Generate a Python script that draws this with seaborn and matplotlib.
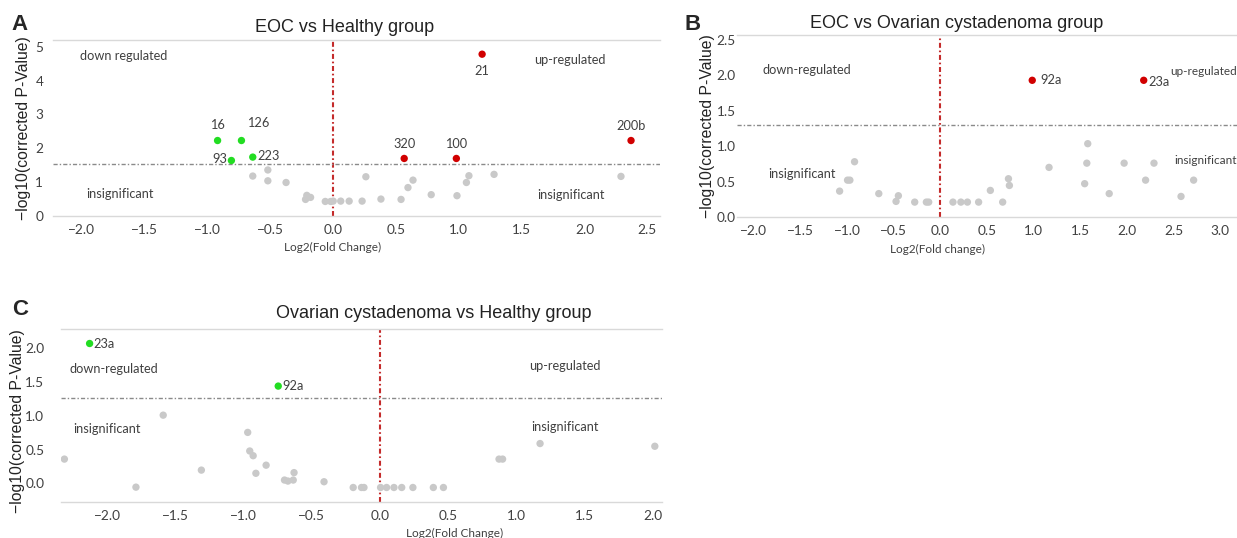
import pandas as pd
import matplotlib
matplotlib.use("Agg")
import matplotlib.pyplot as plt
import seaborn as sns

# ---- panel A: EOC vs Healthy group ----
a_grey_x = [-0.64, -0.52, -0.52, -0.375, -0.22, -0.21, -0.18, -0.063, -0.02,
            0.0, 0.06, 0.127, 0.23, 0.26, 0.38, 0.54, 0.595, 0.635, 0.78,
            0.985, 1.06, 1.08, 1.28, 2.29]
a_grey_y = [1.18, 1.36, 1.04, 0.99, 0.49, 0.61, 0.55, 0.43, 0.43,
            0.44, 0.44, 0.44, 0.44, 1.16, 0.50, 0.49, 0.84, 1.06, 0.63,
            0.60, 0.99, 1.19, 1.23, 1.17]
a_down_names = ["16", "126", "93", "223"]
a_down_x = [-0.92, -0.73, -0.81, -0.64]
a_down_y = [2.23, 2.23, 1.64, 1.74]
a_up_names = ["21", "200b", "320", "100"]
a_up_x = [1.185, 2.37, 0.565, 0.98]
a_up_y = [4.78, 2.23, 1.70, 1.70]

# ---- panel B: EOC vs Ovarian cystadenoma group ----
b_grey_x = [-0.92, -0.995, -0.97, -1.08, -0.66, -0.45, -0.475, -0.275, -0.15, -0.125,
            0.135, 0.22, 0.29, 0.41, 0.536, 0.668, 0.73, 0.74, 1.165, 1.547,
            1.57, 1.58, 1.81, 1.97, 2.20, 2.29, 2.58, 2.715]
b_grey_y = [0.78, 0.52, 0.52, 0.365, 0.33, 0.30, 0.22, 0.21, 0.21, 0.21,
            0.21, 0.21, 0.21, 0.21, 0.375, 0.21, 0.54, 0.445, 0.70, 0.47,
            0.76, 1.035, 0.33, 0.76, 0.52, 0.76, 0.29, 0.52]
b_up_names = ["92a", "23a"]
b_up_x = [0.985, 2.18]
b_up_y = [1.93, 1.93]

# ---- panel C: Ovarian cystadenoma vs Healthy group ----
c_grey_x = [-2.315, -1.79, -1.59, -1.31, -0.97, -0.955, -0.93, -0.91, -0.835, -0.70,
            -0.675, -0.636, -0.63, -0.41, -0.196, -0.135, -0.117, 0.005, 0.049, 0.103,
            0.16, 0.242, 0.392, 0.466, 0.874, 0.90, 1.175, 2.017]
c_grey_y = [0.36, -0.055, 1.01, 0.197, 0.755, 0.48, 0.41, 0.15, 0.27, 0.05,
            0.035, 0.05, 0.16, 0.025, -0.06, -0.06, -0.06, -0.06, -0.06, -0.06,
            -0.06, -0.06, -0.06, -0.06, 0.36, 0.36, 0.59, 0.55]
c_down_names = ["23a", "92a"]
c_down_x = [-2.13, -0.746]
c_down_y = [2.07, 1.44]

thresholds = {"A": 1.55, "B": 1.3, "C": 1.27}

sns.set_style("white")
plt.rcParams["font.family"] = ["Liberation Sans", "DejaVu Sans"]

GREY = "#c9c9c9"
GREEN = "#22dd22"
RED = "#d10000"
TXT = "#404040"
palette = {"ns": GREY, "down": GREEN, "up": RED}
small = dict(family="Lato", color=TXT)
NOTE = 9.2


def make_df(grey_x, grey_y, down_x=(), down_y=(), up_x=(), up_y=()):
    parts = [pd.DataFrame({"fc": grey_x, "p": grey_y, "group": "ns"})]
    if len(down_x):
        parts.append(pd.DataFrame({"fc": down_x, "p": down_y, "group": "down"}))
    if len(up_x):
        parts.append(pd.DataFrame({"fc": up_x, "p": up_y, "group": "up"}))
    return pd.concat(parts, ignore_index=True)


def style_axes(ax, xlim, ylim, xticks, yticks, yfmt, thr, ypad):
    ax.set_xlim(*xlim)
    ax.set_ylim(*ylim)
    ax.set_xticks(xticks)
    ax.set_yticks(yticks)
    ax.set_xticklabels([f"{t:.1f}".replace("-", "\u2212") for t in xticks])
    ax.set_yticklabels([yfmt.format(t).replace("-", "\u2212") for t in yticks])
    for lab in ax.get_xticklabels() + ax.get_yticklabels():
        lab.set_family("Lato")
        lab.set_fontsize(9.8)
        lab.set_color(TXT)
    ax.tick_params(axis="x", length=0, pad=6)
    ax.tick_params(axis="y", length=0, pad=ypad)
    for s in ["left", "right"]:
        ax.spines[s].set_visible(False)
    for s in ["top", "bottom"]:
        ax.spines[s].set_color("#d9d9d9")
        ax.spines[s].set_linewidth(1)
    # zero fold-change line and significance threshold (dash-dot)
    ax.axvline(0, color="#c42b2b", lw=1.5, dashes=(2.4, 1.3, 0.8, 1.3), zorder=1)
    ax.axhline(thr, color="#8a8a8a", lw=1.0, dashes=(3, 1.5, 1, 1.5), zorder=1)
    ax.set_ylabel("\u2212log10(corrected P-Value)", fontsize=11.3, color="#222222")


fig = plt.figure(figsize=(12.37, 5.38), dpi=100)
axA = fig.add_axes([0.0428, 0.5985, 0.4907, 0.3272])
axB = fig.add_axes([0.5958, 0.5967, 0.4042, 0.3383])
axC = fig.add_axes([0.0493, 0.0675, 0.4859, 0.3204])

# panel A
dfA = make_df(a_grey_x, a_grey_y, a_down_x, a_down_y, a_up_x, a_up_y)
sns.scatterplot(data=dfA, x="fc", y="p", hue="group", palette=palette, s=28,
                linewidth=0, legend=False, ax=axA, zorder=3)
style_axes(axA, (-2.23, 2.6), (0, 5.2), [-2.0, -1.5, -1.0, -0.5, 0.0, 0.5, 1.0, 1.5, 2.0, 2.5],
           [0, 1, 2, 3, 4, 5], "{:d}", thresholds["A"], 7)
offA = {"16": (0, 7, "center", "bottom"), "126": (4, 8, "left", "bottom"),
        "93": (-3, 1, "right", "center"), "223": (3, 1, "left", "center"),
        "21": (0, -8, "center", "top"), "200b": (0, 6, "center", "bottom"),
        "320": (0, 6, "center", "bottom"), "100": (0, 6, "center", "bottom")}
for n, x, y in zip(a_down_names + a_up_names, a_down_x + a_up_x, a_down_y + a_up_y):
    dx, dy, ha, va = offA[n]
    axA.annotate(n, (x, y), xytext=(dx, dy), textcoords="offset points",
                 ha=ha, va=va, fontsize=NOTE, **small)
axA.text(-1.67, 4.73, "down regulated", ha="center", va="center", fontsize=NOTE, **small)
axA.text(-1.70, 0.65, "insignificant", ha="center", va="center", fontsize=NOTE, **small)
axA.text(1.88, 4.6, "up-regulated", ha="center", va="center", fontsize=NOTE, **small)
axA.text(1.89, 0.62, "insignificant", ha="center", va="center", fontsize=NOTE, **small)
axA.set_xlabel("Log2(Fold Change)", fontsize=8.5, **small)
axA.xaxis.set_label_coords(0.46, -0.15)
axA.yaxis.set_label_coords(-0.036, 0.5)
axA.set_title("EOC vs Healthy group", fontsize=13, color="#222222", x=0.48, pad=6)

# panel B
dfB = make_df(b_grey_x, b_grey_y, up_x=b_up_x, up_y=b_up_y)
sns.scatterplot(data=dfB, x="fc", y="p", hue="group", palette=palette, s=28,
                linewidth=0, legend=False, ax=axB, zorder=3)
style_axes(axB, (-2.18, 3.18), (0, 2.57), [-2.0, -1.5, -1.0, -0.5, 0.0, 0.5, 1.0, 1.5, 2.0, 2.5, 3.0],
           [0.0, 0.5, 1.0, 1.5, 2.0, 2.5], "{:.1f}", thresholds["B"], 1)
offB = {"92a": (6, 0, "left", "center"), "23a": (3, -1, "left", "center")}
for n, x, y in zip(b_up_names, b_up_x, b_up_y):
    dx, dy, ha, va = offB[n]
    axB.annotate(n, (x, y), xytext=(dx, dy), textcoords="offset points",
                 ha=ha, va=va, fontsize=NOTE, **small)
axB.text(-1.43, 2.08, "down-regulated", ha="center", va="center", fontsize=NOTE, **small)
axB.text(-1.48, 0.60, "insignificant", ha="center", va="center", fontsize=NOTE, **small)
axB.text(3.175, 2.05, "up-regulated", ha="right", va="center", fontsize=8.5,
         clip_on=False, **small)
axB.text(3.175, 0.80, "insignificant", ha="right", va="center", fontsize=8.5,
         clip_on=False, **small)
axB.set_xlabel("Log2(Fold change)", fontsize=8.5, **small)
axB.xaxis.set_label_coords(0.40, -0.15)
axB.yaxis.set_label_coords(-0.044, 0.5)
axB.set_title("EOC vs Ovarian cystadenoma group", fontsize=13, color="#222222",
              x=0.44, pad=5)

# panel C
dfC = make_df(c_grey_x, c_grey_y, c_down_x, c_down_y)
sns.scatterplot(data=dfC, x="fc", y="p", hue="group", palette=palette, s=28,
                linewidth=0, legend=False, ax=axC, zorder=3)
style_axes(axC, (-2.34, 2.07), (-0.27, 2.28), [-2.0, -1.5, -1.0, -0.5, 0.0, 0.5, 1.0, 1.5, 2.0],
           [0.0, 0.5, 1.0, 1.5, 2.0], "{:.1f}", thresholds["C"], 12)
for n, x, y in zip(c_down_names, c_down_x, c_down_y):
    axC.annotate(n, (x, y), xytext=(3, 0), textcoords="offset points",
                 ha="left", va="center", fontsize=NOTE, **small)
axC.text(-1.95, 1.70, "down-regulated", ha="center", va="center", fontsize=NOTE, **small)
axC.text(-2.0, 0.80, "insignificant", ha="center", va="center", fontsize=NOTE, **small)
axC.text(1.36, 1.74, "up-regulated", ha="center", va="center", fontsize=NOTE, **small)
axC.text(1.36, 0.83, "insignificant", ha="center", va="center", fontsize=NOTE, **small)
axC.set_xlabel("Log2(Fold Change)", fontsize=8.5, **small)
axC.xaxis.set_label_coords(0.655, -0.15)
axC.yaxis.set_label_coords(-0.06, 0.47)
axC.set_title("Ovarian cystadenoma vs Healthy group", fontsize=13, color="#222222",
              x=0.62, pad=8)

# panel letters
for letter, (x, y) in {"A": (0.016, 0.955), "B": (0.56, 0.955), "C": (0.016, 0.425)}.items():
    fig.text(x, y, letter, fontsize=16, fontweight="bold", ha="center", va="center")

fig.savefig("out.png", dpi=100, facecolor="white")
